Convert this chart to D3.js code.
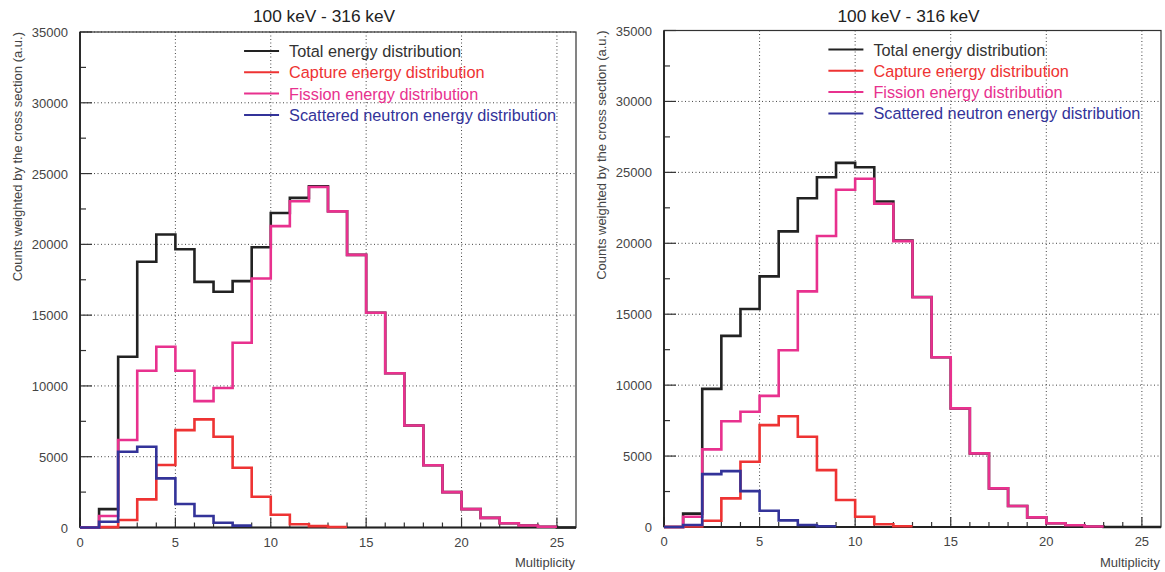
<!DOCTYPE html>
<html>
<head>
<meta charset="utf-8">
<script src="https://cdn.jsdelivr.net/npm/d3@7"></script>
<style>
  html, body { margin: 0; padding: 0; background: #fff; }
  svg text { font-family: "Liberation Sans", Arial, Helvetica, sans-serif; }
</style>
</head>
<body>
<svg id="chart" width="1165" height="572"></svg>
<script>
// Multiplicity bins: bin i spans [i, i+1)
const panelTitles = ["100 keV - 316 keV", "100 keV - 316 keV"];
const seriesNames = [
  "Total energy distribution",
  "Capture energy distribution",
  "Fission energy distribution",
  "Scattered neutron energy distribution"
];
const seriesColors = ["#222222", "#ee3333", "#e8318e", "#333399"];
const yTickValues = [0, 5000, 10000, 15000, 20000, 25000, 30000, 35000];
const xTickValues = [0, 5, 10, 15, 20, 25];

// Left panel
const leftTotal = [0, 1300, 12060, 18770, 20700, 19650, 17350, 16650, 17400, 19800, 22220, 23280,
  24100, 22340, 19260, 15170, 10900, 7200, 4400, 2500, 1300, 680, 300, 140, 50, 0];
const leftCapture = [0, 30, 530, 1990, 4410, 6880, 7640, 6410, 4220, 2170, 900, 230, 100, 40];
const leftFission = [0, 810, 6180, 11070, 12770, 11070, 8930, 9850, 13050, 17590, 21290, 23050,
  24050, 22330, 19260, 15170, 10900, 7200, 4400, 2500, 1300, 680, 300, 140, 50];
const leftScattered = [0, 410, 5350, 5700, 3470, 1660, 810, 340, 130];

// Right panel
const rightTotal = [0, 940, 9740, 13470, 15370, 17670, 20840, 23180, 24660, 25670, 25360, 22950,
  20200, 16210, 11970, 8360, 5190, 2720, 1480, 680, 260, 120, 40, 0, 0, 0];
const rightCapture = [0, 30, 440, 2020, 4600, 7180, 7810, 6360, 4010, 1900, 725, 190, 50];
const rightFission = [0, 725, 5470, 7460, 8120, 9240, 12460, 16610, 20510, 23770, 24550, 22790,
  20150, 16200, 11970, 8360, 5190, 2720, 1480, 680, 260, 120, 40];
const rightScattered = [0, 140, 3730, 3940, 2530, 1150, 470, 140, 50];

const panels = [
  { title: panelTitles[0], left: 80, right: 576, top: 32, bottom: 527.5,
    series: [leftTotal, leftCapture, leftFission, leftScattered] },
  { title: panelTitles[1], left: 664, right: 1161, top: 30.5, bottom: 527,
    series: [rightTotal, rightCapture, rightFission, rightScattered] }
];

const svg = d3.select("#chart");
const axisColor = "#333";
const textColor = "#444";

panels.forEach(p => {
  const x = d3.scaleLinear().domain([0, 26]).range([p.left, p.right]);
  const y = d3.scaleLinear().domain([0, 35000]).range([p.bottom, p.top]);
  const g = svg.append("g");

  // dotted grid at major ticks
  g.append("g").selectAll("line").data(xTickValues.filter(v => v > 0)).join("line")
    .attr("x1", d => x(d)).attr("x2", d => x(d))
    .attr("y1", p.top).attr("y2", p.bottom)
    .attr("stroke", "#444").attr("stroke-width", 1).attr("stroke-dasharray", "1,2.5");
  g.append("g").selectAll("line").data(yTickValues.filter(v => v > 0)).join("line")
    .attr("x1", p.left).attr("x2", p.right)
    .attr("y1", d => y(d)).attr("y2", d => y(d))
    .attr("stroke", "#444").attr("stroke-width", 1).attr("stroke-dasharray", "1,2.5");

  // frame
  g.append("rect").attr("x", p.left).attr("y", p.top)
    .attr("width", p.right - p.left).attr("height", p.bottom - p.top)
    .attr("fill", "none").attr("stroke", axisColor).attr("stroke-width", 1.2);

  // inward ticks: y major every 5000, minor every 2500
  const yMinor = d3.range(2500, 35000, 5000);
  g.append("g").selectAll("line").data(yTickValues).join("line")
    .attr("x1", p.left).attr("x2", p.left + 12)
    .attr("y1", d => y(d)).attr("y2", d => y(d))
    .attr("stroke", axisColor).attr("stroke-width", 1.2);
  g.append("g").selectAll("line").data(yMinor).join("line")
    .attr("x1", p.left).attr("x2", p.left + 6)
    .attr("y1", d => y(d)).attr("y2", d => y(d))
    .attr("stroke", axisColor).attr("stroke-width", 1.2);
  // x major every 5, minor every 1
  const xMinor = d3.range(1, 26).filter(v => v % 5 !== 0);
  g.append("g").selectAll("line").data(xTickValues).join("line")
    .attr("x1", d => x(d)).attr("x2", d => x(d))
    .attr("y1", p.bottom).attr("y2", p.bottom - 10)
    .attr("stroke", axisColor).attr("stroke-width", 1.2);
  g.append("g").selectAll("line").data(xMinor).join("line")
    .attr("x1", d => x(d)).attr("x2", d => x(d))
    .attr("y1", p.bottom).attr("y2", p.bottom - 5)
    .attr("stroke", axisColor).attr("stroke-width", 1.2);

  // axis lines
  g.append("line").attr("x1", p.left).attr("x2", p.left).attr("y1", p.top).attr("y2", p.bottom)
    .attr("stroke", "#222").attr("stroke-width", 1.8);
  g.append("line").attr("x1", p.left).attr("x2", p.right).attr("y1", p.bottom).attr("y2", p.bottom)
    .attr("stroke", "#222").attr("stroke-width", 1.8);

  // tick labels
  g.append("g").selectAll("text").data(yTickValues).join("text")
    .attr("x", p.left - 12).attr("y", d => y(d) + 5)
    .attr("text-anchor", "end").attr("font-size", 13).attr("fill", textColor)
    .text(d => d);
  g.append("g").selectAll("text").data(xTickValues).join("text")
    .attr("x", d => x(d)).attr("y", p.bottom + 19)
    .attr("text-anchor", "middle").attr("font-size", 13).attr("fill", textColor)
    .text(d => d);

  // axis titles
  g.append("text")
    .attr("transform", `translate(${p.left - 58.5},${p.top}) rotate(-90)`)
    .attr("text-anchor", "end").attr("font-size", 13).attr("fill", textColor)
    .text("Counts weighted by the cross section (a.u.)");
  g.append("text")
    .attr("x", p.right - 1).attr("y", 567)
    .attr("text-anchor", "end").attr("font-size", 13).attr("fill", textColor)
    .text("Multiplicity");

  // panel title
  g.append("text")
    .attr("x", (p.left + p.right) / 2 - 4).attr("y", 21.5)
    .attr("text-anchor", "middle").attr("font-size", 17.3).attr("fill", "#222")
    .text(p.title);

  // histogram step lines
  const step = d3.line().x(d => x(d[0])).y(d => y(d[1])).curve(d3.curveStepAfter);
  p.series.forEach((vals, si) => {
    const pts = vals.map((v, i) => [i, v]);
    pts.push([vals.length, vals[vals.length - 1]]);
    g.append("path").datum(pts)
      .attr("d", step)
      .attr("fill", "none")
      .attr("stroke", seriesColors[si])
      .attr("stroke-width", 2.6)
      .attr("stroke-linejoin", "miter");
  });

  // legend
  const lx = x(8.6);
  const legend = g.append("g");
  seriesNames.forEach((name, i) => {
    const ly = p.top + 19 + i * 21.3;
    legend.append("line")
      .attr("x1", lx).attr("x2", lx + 35).attr("y1", ly).attr("y2", ly)
      .attr("stroke", seriesColors[i]).attr("stroke-width", 2);
    legend.append("text")
      .attr("x", lx + 45).attr("y", ly + 6)
      .attr("font-size", 16.3).attr("fill", seriesColors[i] === "#222222" ? "#333" : seriesColors[i])
      .text(name);
  });
});
</script>
</body>
</html>
